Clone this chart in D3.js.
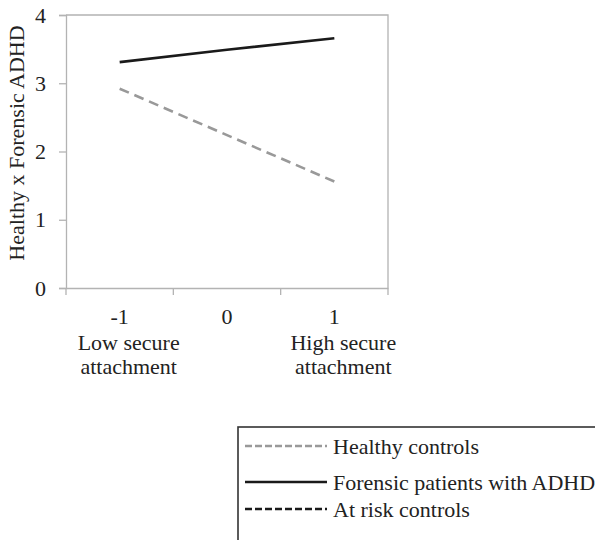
<!DOCTYPE html>
<html>
<head>
<meta charset="utf-8">
<script src="https://cdn.jsdelivr.net/npm/d3@7"></script>
</head>
<body style="margin:0;background:#fff">
<svg id="chart"></svg>
<script>
// slope plot: secure attachment (-1, 0, 1) per group
const categories = ["-1", "0", "1"];
const categoryNotes = [["Low secure", "attachment"], [], ["High secure", "attachment"]];
const yTicks = [0, 1, 2, 3, 4];
const healthyValues = [2.92, 2.24, 1.56];
const forensicValues = [3.31, 3.49, 3.66];
const seriesNames = ["Healthy controls", "Forensic patients with ADHD", "At risk controls"];

const width = 595, height = 540;
const margin = { top: 15, left: 66, right: 207, bottom: 252 };
const fontStack = "'Liberation Serif', 'Times New Roman', serif";
const fontSize = 22;
const textColor = "#222";
const axisColor = "#b3b3b3";

const svg = d3.select("#chart")
  .attr("width", width)
  .attr("height", height)
  .style("font-family", fontStack);

const x = d3.scaleBand()
  .domain(categories)
  .range([margin.left, width - margin.right])
  .padding(0);

const y = d3.scaleLinear()
  .domain([0, 4])
  .range([height - margin.bottom, margin.top]);

function styleText(sel) {
  sel.attr("font-family", fontStack)
    .attr("font-size", fontSize)
    .attr("fill", textColor);
}

// plot area border (top + right)
svg.append("path")
  .attr("d", `M${x.range()[0]},${y(4)}H${x.range()[1]}V${y(0)}`)
  .attr("fill", "none")
  .attr("stroke", axisColor)
  .attr("stroke-width", 1.3);

// y axis
const yAxis = svg.append("g")
  .attr("transform", `translate(${margin.left},0)`)
  .call(d3.axisLeft(y).tickValues(yTicks).tickSize(7).tickPadding(13).tickFormat(d3.format("d")));
yAxis.attr("font-family", fontStack);
yAxis.select(".domain").attr("stroke", axisColor).attr("stroke-width", 1.3);
yAxis.selectAll(".tick line").attr("stroke", axisColor).attr("stroke-width", 1.3);
yAxis.selectAll(".tick text").call(styleText);

// x axis
const xAxis = svg.append("g")
  .attr("transform", `translate(0,${y(0)})`)
  .call(d3.axisBottom(x).tickSize(0).tickPadding(20));
xAxis.attr("font-family", fontStack);
xAxis.select(".domain").attr("stroke", axisColor).attr("stroke-width", 1.3);
xAxis.selectAll(".tick text").call(styleText);

// tick marks between categories (excel style)
const bounds = categories.map(c => x(c)).concat([x(categories[categories.length - 1]) + x.bandwidth()]);
xAxis.selectAll("line.bound")
  .data(bounds)
  .enter()
  .append("line")
  .attr("class", "bound")
  .attr("x1", d => d).attr("x2", d => d)
  .attr("y1", 0).attr("y2", 7)
  .attr("stroke", axisColor)
  .attr("stroke-width", 1.3);

// category notes under tick labels
categories.forEach((c, i) => {
  categoryNotes[i].forEach((line, j) => {
    svg.append("text")
      .attr("x", x(c) + x.bandwidth() / 2 + 9)
      .attr("y", y(0) + 62 + j * 24)
      .attr("text-anchor", "middle")
      .call(styleText)
      .text(line);
  });
});

// y axis title
svg.append("text")
  .attr("transform", `translate(24,143) rotate(-90)`)
  .attr("text-anchor", "middle")
  .call(styleText)
  .text("Healthy x Forensic ADHD");

const line = d3.line()
  .x((d, i) => x(categories[i]) + x.bandwidth() / 2)
  .y(d => y(d));

svg.append("path")
  .datum(healthyValues)
  .attr("d", line)
  .attr("fill", "none")
  .attr("stroke", "#999")
  .attr("stroke-width", 2.6)
  .attr("stroke-dasharray", "10,6");

svg.append("path")
  .datum(forensicValues)
  .attr("d", line)
  .attr("fill", "none")
  .attr("stroke", "#1a1a1a")
  .attr("stroke-width", 2.6);

// legend
const legendStyles = [
  { stroke: "#999", dash: "7,3" },
  { stroke: "#1a1a1a", dash: null },
  { stroke: "#1a1a1a", dash: "7,3" }
];
const legend = svg.append("g").attr("transform", "translate(238,427)");
legend.append("rect")
  .attr("x", 0).attr("y", 0)
  .attr("width", 400).attr("height", 200)
  .attr("fill", "none")
  .attr("stroke", "#333")
  .attr("stroke-width", 1.6);

const rowY = [19, 55, 82];
seriesNames.forEach((name, i) => {
  legend.append("line")
    .attr("x1", 7).attr("x2", 89)
    .attr("y1", rowY[i]).attr("y2", rowY[i])
    .attr("stroke", legendStyles[i].stroke)
    .attr("stroke-width", 2.4)
    .attr("stroke-dasharray", legendStyles[i].dash);
  legend.append("text")
    .attr("x", 95)
    .attr("y", rowY[i] + 8)
    .call(styleText)
    .text(name);
});
</script>
</body>
</html>
